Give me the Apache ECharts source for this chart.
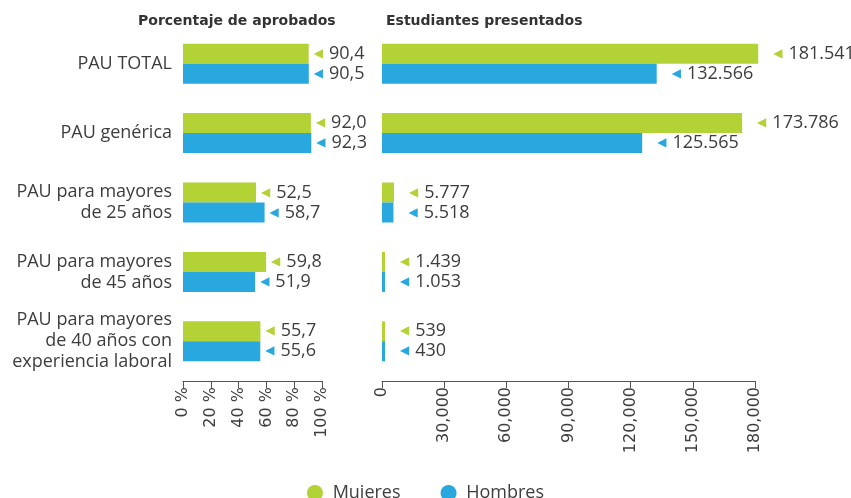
<!DOCTYPE html>
<html>
<head>
<meta charset="utf-8">
<script src="https://cdn.jsdelivr.net/npm/echarts@6/dist/echarts.min.js"></script>
<style>
  html, body { margin: 0; padding: 0; background: #fff; }
  #chart { width: 851px; height: 498px; }
</style>
</head>
<body>
<div id="chart"></div>
<script>
const categories = [
  "PAU TOTAL",
  "PAU genérica",
  "PAU para mayores\nde 25 años",
  "PAU para mayores\nde 45 años",
  "PAU para mayores\nde 40 años con\nexperiencia laboral",
];
const pctMujeres = [90.4, 92.0, 52.5, 59.8, 55.7];
const pctHombres = [90.5, 92.3, 58.7, 51.9, 55.6];
const presMujeres = [181541, 173786, 5777, 1439, 539];
const presHombres = [132566, 125565, 5518, 1053, 430];

const GREEN = "#b2d235";
const BLUE = "#29a8e0";
const TEXT = "#3d3d3d";
const FONT = "Open Sans";
const WIDE = "DejaVu Sans";

const fmtPct = (v) => v.toFixed(1).replace(".", ",");
const fmtThousands = (v, sep) => String(v).replace(/\B(?=(\d{3})+(?!\d))/g, sep);

function label(color, fmt, dist) {
  return {
    show: true,
    position: "right",
    distance: dist,
    formatter: (p) => `{t|◀}{v|${fmt(p.value)}}`,
    rich: {
      t: { color: color, fontSize: 12, fontFamily: WIDE, padding: [0, 6, 0, 0] },
      v: { color: TEXT, fontSize: 18, fontFamily: FONT },
    },
  };
}

const chart = echarts.init(document.getElementById("chart"));
const xAxisCommon = {
  type: "value",
  offset: 5,
  splitLine: { show: false },
  axisLine: { show: true, lineStyle: { color: "#555", width: 1 } },
  axisTick: { show: true, length: 7, lineStyle: { color: "#555" } },
  axisLabel: { rotate: 90, color: TEXT, fontSize: 16, fontFamily: WIDE, margin: 6 },
};

chart.setOption({
  animation: false,
  textStyle: { fontFamily: FONT },
  title: [
    { text: "Porcentaje de aprobados", left: 133, top: 9,
      textStyle: { fontSize: 14, fontWeight: "bold", color: "#333", fontFamily: WIDE } },
    { text: "Estudiantes presentados", left: 381, top: 9,
      textStyle: { fontSize: 14, fontWeight: "bold", color: "#333", fontFamily: WIDE } },
  ],
  legend: {
    top: 479,
    left: "center",
    icon: "circle",
    itemWidth: 16,
    itemHeight: 16,
    itemGap: 40,
    formatter: (n) => " " + n,
    textStyle: { fontSize: 18, color: TEXT, fontFamily: FONT },
    data: ["Mujeres", "Hombres"],
  },
  grid: [
    { left: 183, right: 529, top: 29, bottom: 122 },
    { left: 382, right: 96, top: 29, bottom: 122 },
  ],
  xAxis: [
    Object.assign({}, xAxisCommon, {
      gridIndex: 0, min: 0, max: 100, interval: 20,
      axisLabel: Object.assign({}, xAxisCommon.axisLabel, { formatter: "{value} %" }),
    }),
    Object.assign({}, xAxisCommon, {
      gridIndex: 1, min: 0, max: 180000, interval: 30000,
      axisLabel: Object.assign({}, xAxisCommon.axisLabel, {
        formatter: (v) => fmtThousands(v, ","),
      }),
    }),
  ],
  yAxis: [
    {
      type: "category", gridIndex: 0, data: categories, inverse: true,
      axisLine: { show: false }, axisTick: { show: false },
      axisLabel: { color: TEXT, fontSize: 18, fontFamily: FONT, lineHeight: 21, margin: 11, align: "right" },
    },
    {
      type: "category", gridIndex: 1, data: categories, inverse: true,
      axisLine: { show: false }, axisTick: { show: false }, axisLabel: { show: false },
    },
  ],
  series: [
    {
      name: "Mujeres", type: "bar", xAxisIndex: 0, yAxisIndex: 0,
      data: pctMujeres, barWidth: 20, barGap: "0%", itemStyle: { color: GREEN },
      label: label(GREEN, fmtPct, 5),
    },
    {
      name: "Hombres", type: "bar", xAxisIndex: 0, yAxisIndex: 0,
      data: pctHombres, barWidth: 20, barGap: "0%", itemStyle: { color: BLUE },
      label: label(BLUE, fmtPct, 5),
    },
    {
      name: "Mujeres", type: "bar", xAxisIndex: 1, yAxisIndex: 1, clip: false,
      data: presMujeres, barWidth: 20, barGap: "0%", barMinHeight: 3, itemStyle: { color: GREEN },
      label: label(GREEN, (v) => fmtThousands(v, "."), 15),
    },
    {
      name: "Hombres", type: "bar", xAxisIndex: 1, yAxisIndex: 1, clip: false,
      data: presHombres, barWidth: 20, barGap: "0%", barMinHeight: 3, itemStyle: { color: BLUE },
      label: label(BLUE, (v) => fmtThousands(v, "."), 15),
    },
  ],
});
</script>
</body>
</html>
